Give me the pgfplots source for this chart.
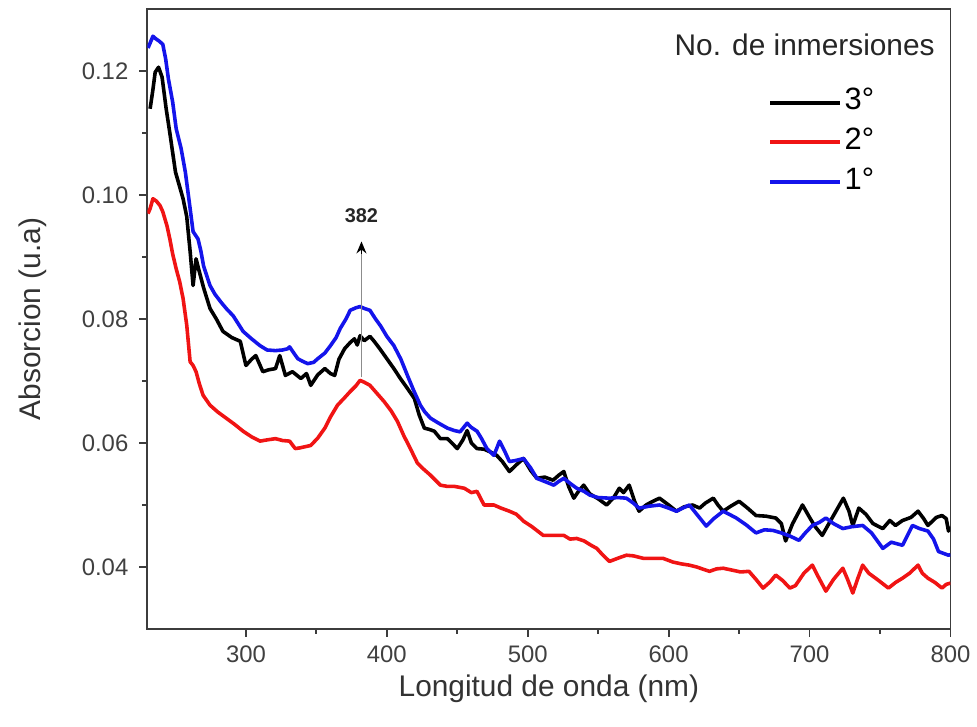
\documentclass[border=0pt]{standalone}
\usepackage{pgfplots}
\pgfplotsset{compat=1.18}
\usepackage{fontspec}
\setmainfont{Liberation Sans}
\usetikzlibrary{arrows.meta}
\definecolor{cblue}{RGB}{20,20,235}
\definecolor{cred}{RGB}{240,20,20}
\definecolor{axgray}{RGB}{60,60,60}
\begin{document}
\begin{tikzpicture}
\begin{axis}[
  scale only axis,
  width=403.5pt, height=311.5pt,
  xmin=230, xmax=800, ymin=0.03, ymax=0.13,
  xtick={300,400,500,600,700,800},
  ytick={0.04,0.06,0.08,0.10,0.12},
  minor x tick num=1, minor y tick num=1,
  tick pos=left, tick align=outside,
  major tick length=4pt, minor tick length=2.5pt,
  axis line style={axgray, line width=0.9pt},
  every tick/.style={axgray, line width=0.9pt},
  /pgf/number format/assume math mode=true,
  yticklabel style={/pgf/number format/fixed, /pgf/number format/precision=2, /pgf/number format/fixed zerofill, font=\fontsize{12}{14}\selectfont, text=black!75, xshift=-2pt},
  xticklabel style={font=\fontsize{12}{14}\selectfont, text=black!75, /pgf/number format/1000 sep={}, yshift=-1pt},
  scaled y ticks=false,
  xlabel={Longitud de onda (nm)},
  ylabel={Absorcion (u.a)},
  xlabel style={font=\fontsize{15}{18}\selectfont, text=black!80, yshift=1pt},
  ylabel style={font=\fontsize{15}{18}\selectfont, text=black!80, yshift=11pt},
  legend style={at={(rel axis cs:0.765,0.885)}, anchor=north west, draw=none, fill=none,
    font=\fontsize{15.5}{18}\selectfont, row sep=2pt,
    nodes={inner sep=1.5pt, text height=11pt, text depth=4pt}},
  legend cell align=left,
  legend image code/.code={\draw[#1, line width=2pt] (0pt,0pt) -- (35pt,0pt);},
]
\addplot[black, line width=1.8pt, line join=round] coordinates {
(232,0.1139)(234,0.1170)(235.6,0.1198)(238,0.1206)(240.5,0.1190)(243.4,0.1139)(246,0.1100)(250,0.1037)
(255.4,0.0994)(258,0.0965)(260.4,0.0909)(262.5,0.0854)(264.6,0.0897)(266.5,0.0880)(270,0.0850)(274.5,0.0817)
(279,0.0800)(283.7,0.0780)(290,0.0770)(296,0.0764)(300,0.0725)(304,0.0735)(307,0.0741)(312,0.0715)
(316,0.0718)(321,0.0720)(324,0.0741)(328,0.0709)(333,0.0715)(339,0.0704)(343,0.0712)(346,0.0693)
(351,0.0710)(356,0.0720)(360,0.0712)(363,0.0709)(366,0.0735)(370,0.0752)(374,0.0762)(377,0.0768)
(379,0.0758)(381,0.0773)(384,0.0765)(388,0.0772)(391,0.0764)(395,0.0752)(400,0.0736)(405,0.0720)
(409.6,0.0704)(414,0.0690)(419.5,0.0672)(423,0.0645)(426.6,0.0624)(430,0.0622)(433.7,0.0619)(438,0.0607)
(443,0.0607)(447,0.0598)(450,0.0591)(454,0.0605)(457,0.0620)(460,0.0600)(464,0.0591)(469,0.0590)
(474,0.0585)(478,0.0580)(482,0.0570)(487,0.0554)(492,0.0565)(497,0.0575)(502,0.0556)(506.5,0.0543)
(512,0.0545)(518,0.0540)(522,0.0548)(525.6,0.0554)(529,0.0530)(532.7,0.0511)(536,0.0522)(539.7,0.0532)
(544,0.0518)(550,0.0510)(556,0.0500)(561,0.0512)(565,0.0527)(568,0.0520)(572,0.0532)(576,0.0505)
(579,0.0490)(584,0.0500)(588,0.0505)(593.5,0.0511)(600,0.0500)(605.5,0.0490)(611,0.0497)(617,0.0500)
(622,0.0495)(626,0.0503)(631.7,0.0511)(635,0.0500)(638.7,0.0490)(644,0.0498)(650,0.0506)(656,0.0495)
(662,0.0483)(669,0.0482)(676,0.0479)(680,0.0470)(683,0.0442)(688,0.0470)(695,0.0500)(700,0.0480)
(704,0.0465)(709,0.0451)(715,0.0475)(720,0.0495)(724,0.0511)(728,0.0490)(730.7,0.0467)(735,0.0495)
(740,0.0485)(745,0.0470)(752,0.0462)(757,0.0475)(761,0.0467)(766,0.0475)(772,0.0480)(777,0.0490)
(781,0.0478)(784,0.0467)(790,0.0480)(794,0.0483)(797,0.0478)(798.6,0.0458)(800,0.0465)
};
\addlegendentry{3°}
\addplot[cred, line width=1.8pt, line join=round] coordinates {
(230.5,0.0970)(232,0.0978)(234,0.0994)(236.5,0.0990)(239,0.0983)(241,0.0973)(244,0.0950)(246,0.0929)
(248,0.0905)(250.5,0.0881)(253,0.0860)(255.4,0.0833)(258,0.0790)(260.4,0.0731)(262.5,0.0725)(264.6,0.0715)
(267,0.0695)(269.6,0.0677)(274.5,0.0661)(280,0.0650)(286,0.0640)(292,0.0630)(298,0.0619)(304,0.0610)
(310,0.0603)(315,0.0605)(321,0.0607)(326,0.0604)(331,0.0603)(335,0.0591)(338,0.0592)(342,0.0594)
(346,0.0596)(351,0.0608)(356,0.0624)(360,0.0642)(365,0.0661)(370,0.0673)(374,0.0683)(378,0.0692)
(381,0.0701)(384,0.0698)(388,0.0693)(393,0.0680)(398,0.0667)(403,0.0652)(407.5,0.0635)(412,0.0612)
(416.7,0.0591)(421.6,0.0568)(425,0.0560)(431,0.0548)(438,0.0532)(443,0.0530)(448,0.0530)(455,0.0527)
(460,0.0520)(464,0.0522)(469,0.0500)(476,0.0500)(481,0.0495)(487,0.0490)(492,0.0485)(497,0.0474)
(503,0.0465)(511,0.0451)(518,0.0451)(525.6,0.0451)(530,0.0445)(534.8,0.0446)(540,0.0442)(545,0.0435)
(549,0.0430)(553,0.0420)(558,0.0409)(565,0.0415)(570,0.0419)(575,0.0418)(582,0.0414)(591,0.0414)
(596,0.0414)(603,0.0408)(609,0.0405)(614.7,0.0403)(620,0.0400)(625,0.0396)(629,0.0393)(634,0.0397)
(638.7,0.0398)(645,0.0395)(651,0.0392)(657,0.0393)(662,0.0380)(667,0.0366)(672,0.0376)(676,0.0387)
(681,0.0378)(686,0.0366)(690,0.0370)(696,0.0390)(702,0.0403)(706,0.0385)(711.6,0.0361)(717,0.0380)
(723.6,0.0398)(727,0.0380)(730.7,0.0358)(734,0.0380)(737.7,0.0403)(742,0.0390)(748,0.0380)(756,0.0366)
(761,0.0375)(766,0.0382)(771,0.0390)(777,0.0403)(780,0.0390)(784,0.0382)(789,0.0375)(794,0.0366)
(797,0.0372)(800,0.0374)
};
\addlegendentry{2°}
\addplot[cblue, line width=1.8pt, line join=round] coordinates {
(230.5,0.1237)(232,0.1245)(234,0.1256)(236,0.1252)(238.5,0.1248)(241,0.1243)(243,0.1220)(245,0.1187)
(248,0.1150)(250.5,0.1107)(254,0.1075)(257,0.1037)(260,0.0985)(262.5,0.0941)(266,0.0929)(268,0.0910)
(270,0.0885)(274.5,0.0854)(278,0.0840)(282,0.0828)(286,0.0817)(291,0.0805)(298,0.0780)(304,0.0768)
(310,0.0757)(315,0.0750)(321,0.0749)(326,0.0750)(329.7,0.0752)(331,0.0755)(334,0.0745)(336.8,0.0736)
(340,0.0732)(343.8,0.0728)(348,0.0730)(351,0.0736)(356,0.0745)(360,0.0757)(364,0.0770)(367,0.0785)
(371,0.0800)(374,0.0814)(378,0.0818)(381,0.0820)(384,0.0817)(388,0.0814)(392,0.0800)(395.5,0.0789)
(400,0.0772)(405,0.0757)(410,0.0735)(414.6,0.0709)(419,0.0685)(423.8,0.0661)(427,0.0650)(431,0.0640)
(436,0.0633)(443,0.0624)(448,0.0620)(452,0.0618)(457,0.0632)(460,0.0625)(464,0.0619)(467,0.0608)
(471,0.0591)(476,0.0580)(480,0.0603)(484,0.0585)(487,0.0570)(492,0.0572)(497,0.0575)(502,0.0560)
(506.5,0.0543)(512,0.0538)(518.5,0.0532)(522,0.0538)(525.6,0.0543)(530,0.0535)(534.8,0.0527)(540,0.0522)
(544,0.0516)(550,0.0512)(558,0.0511)(564,0.0512)(570,0.0511)(575,0.0503)(579,0.0495)(586,0.0498)
(593.5,0.0500)(600,0.0495)(605.5,0.0490)(610,0.0495)(614.7,0.0500)(620,0.0485)(626.7,0.0466)(632,0.0478)
(638.7,0.0490)(643,0.0485)(648,0.0479)(655,0.0468)(662,0.0455)(668,0.0460)(674,0.0459)(680,0.0455)
(686,0.0450)(692.5,0.0443)(697,0.0455)(702,0.0467)(707,0.0472)(711.6,0.0479)(717,0.0470)(723.6,0.0462)
(730,0.0465)(737.7,0.0467)(744,0.0455)(752,0.0430)(758,0.0440)(766,0.0435)(773,0.0467)(778,0.0462)
(784,0.0458)(788,0.0445)(791.5,0.0425)(795,0.0422)(798.6,0.0419)(800,0.0420)
};
\addlegendentry{1°}
\draw[black!45, line width=0.6pt] (axis cs:382,0.0706) -- (axis cs:382,0.0915);
\draw[black, -{Stealth[length=6pt,width=5pt]}, line width=0.6pt] (axis cs:382,0.0905) -- (axis cs:382,0.0925);
\node[font=\fontsize{10}{12}\selectfont\bfseries, text=black!85] at (axis cs:382,0.0966) {382};
\node[font=\fontsize{15}{18}\selectfont, text=black!85] at (rel axis cs:0.8185,0.942) {No. de inmersiones};
\end{axis}
\path ([xshift=-74pt,yshift=-49pt]current axis.south west) rectangle ([xshift=11pt,yshift=4.5pt]current axis.north east);
\end{tikzpicture}
\end{document}
